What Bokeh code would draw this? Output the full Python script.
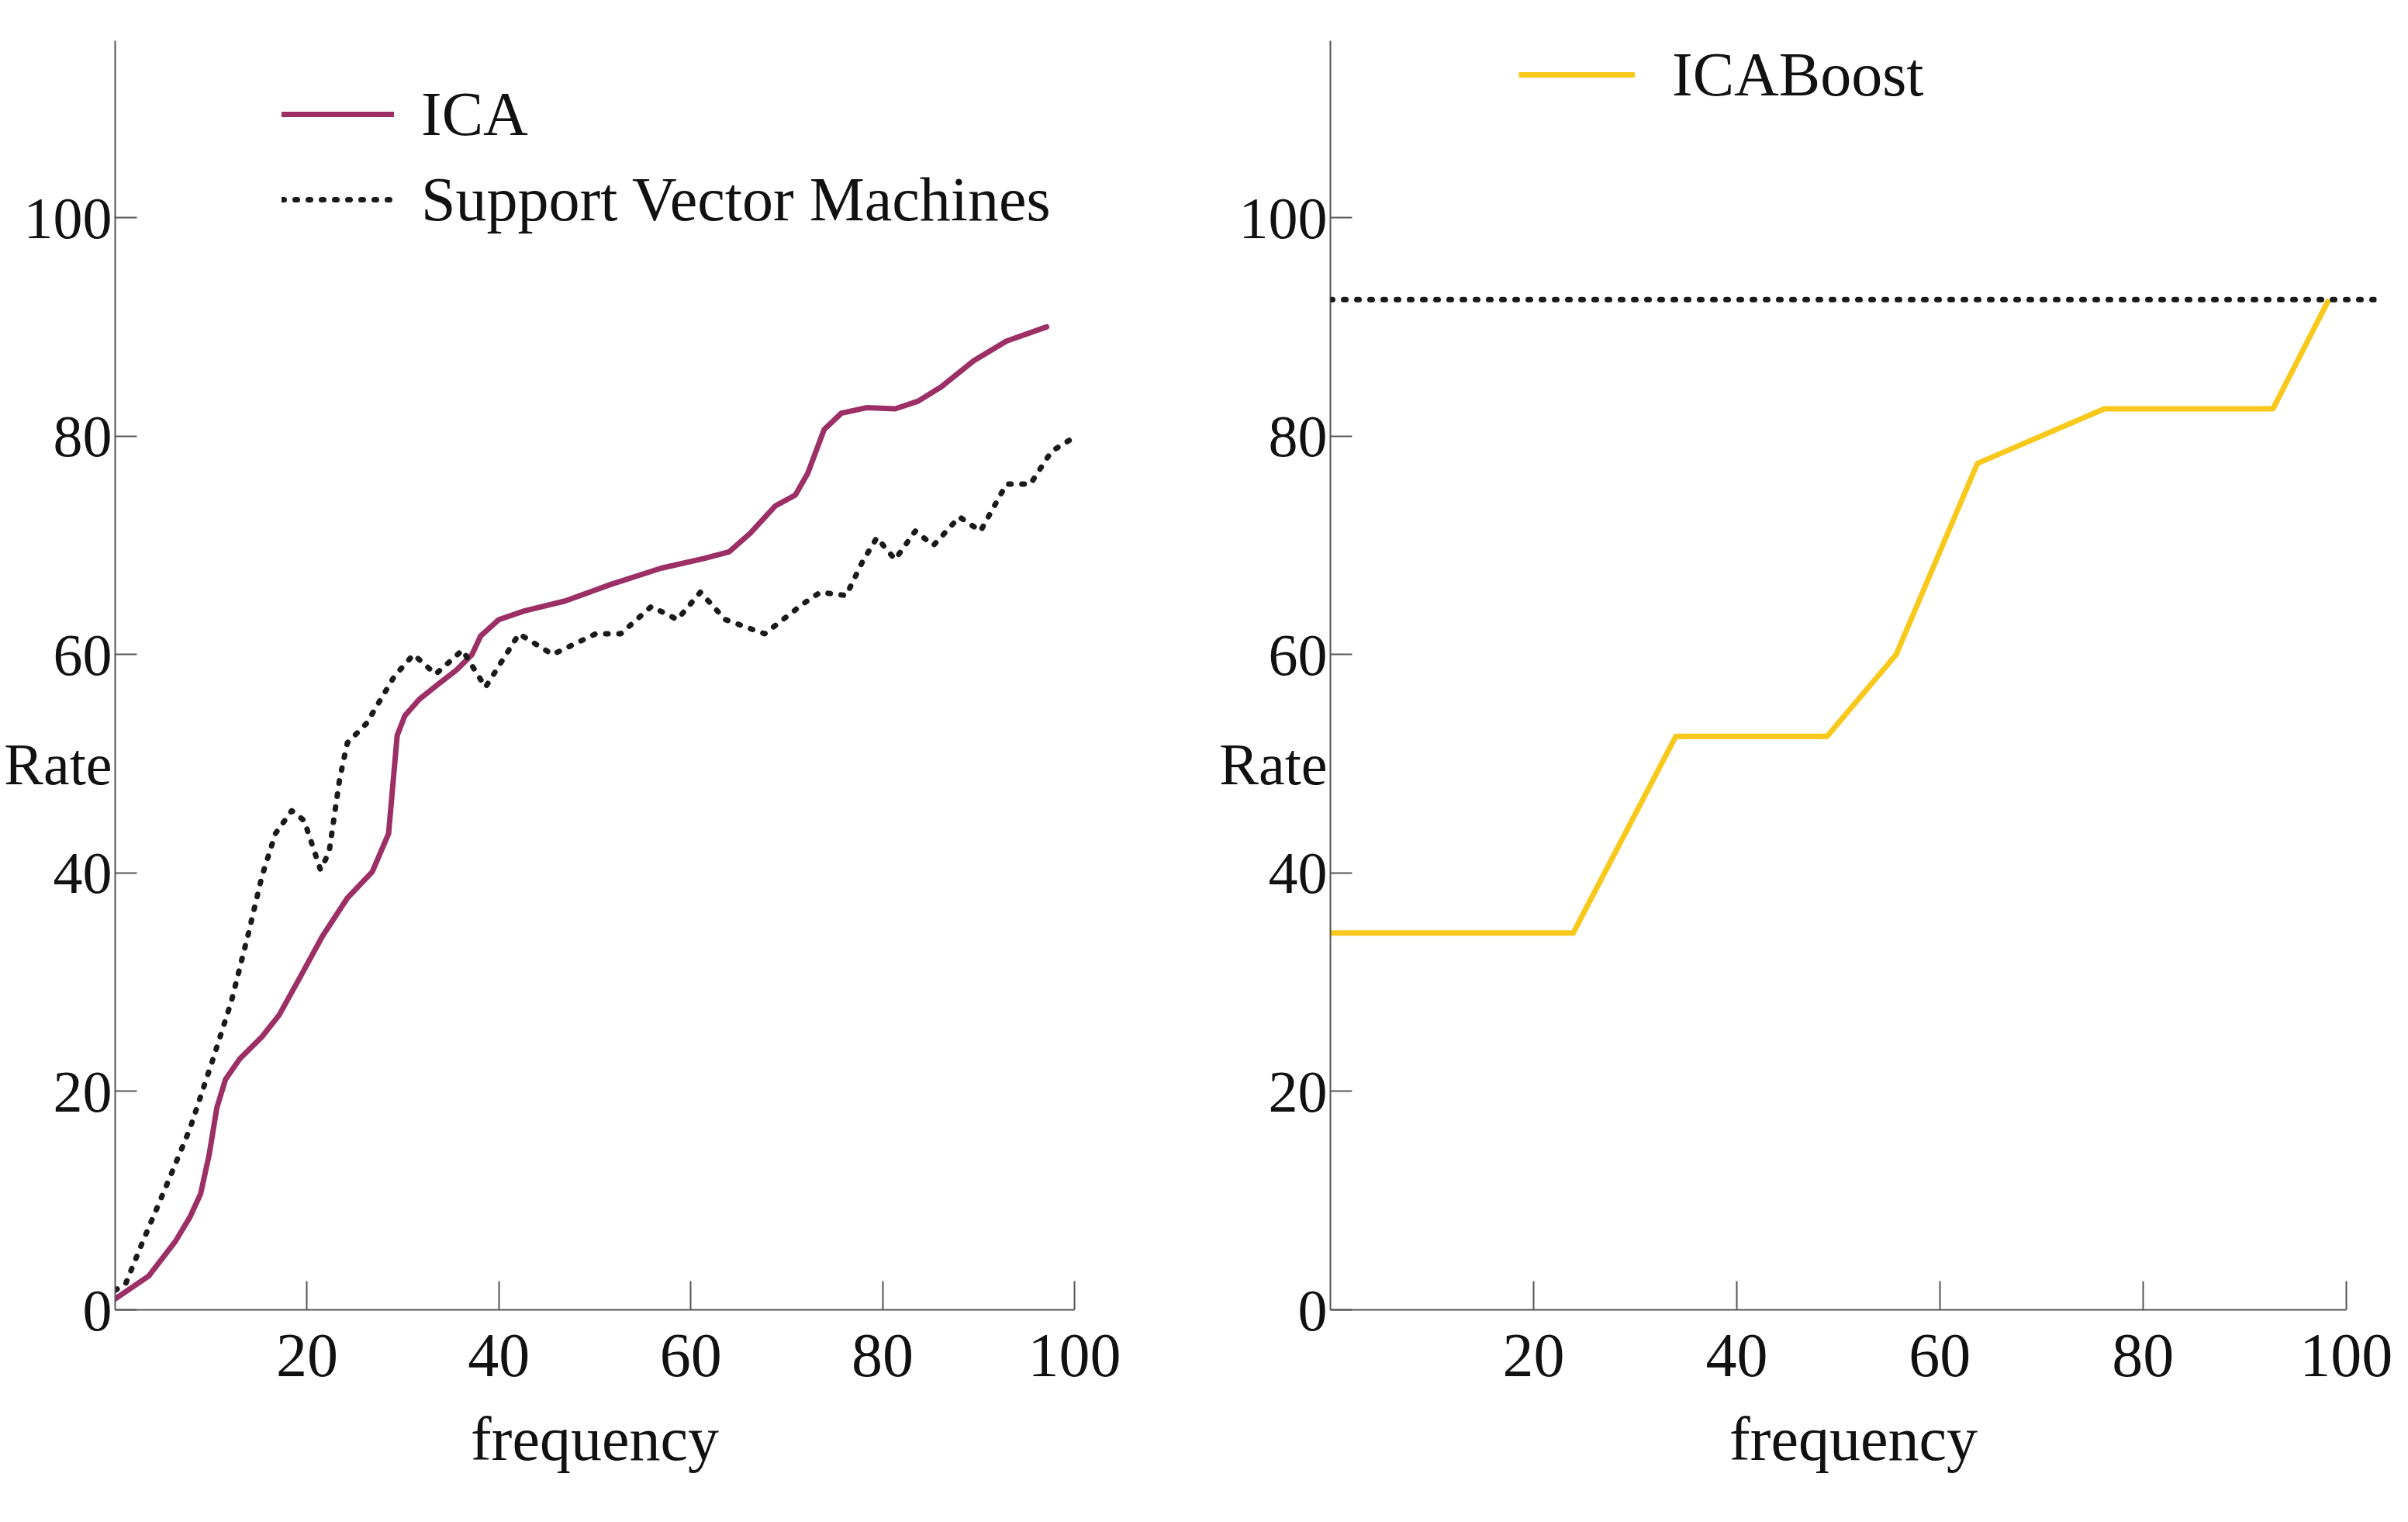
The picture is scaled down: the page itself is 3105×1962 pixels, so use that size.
from bokeh.plotting import figure
from bokeh.layouts import row
from bokeh.models import Legend, LegendItem, Span, FixedTicker, Range1d, LinearAxis
from bokeh.embed import file_html
from bokeh.resources import INLINE

# ---------------- data ----------------
ica_x = [0, 3.5, 6.3, 7.8, 8.9, 9.8, 10.6, 11.5, 13.0, 15.3,
         17.1, 19.3, 21.6, 24.2, 26.8, 28.5, 29.4, 30.2, 31.7, 33.7,
         35.6, 37.2, 38.1, 40.0, 42.7, 46.9, 51.6, 56.9, 61.4, 64.0,
         66.2, 68.8, 70.9, 72.2, 73.9, 75.7, 78.3, 81.3, 83.7, 86.1,
         89.5, 92.9, 97.1]
ica_y = [1.0, 3.1, 6.3, 8.5, 10.6, 14.2, 18.5, 21.1, 23.0, 25.0,
         27.0, 30.5, 34.2, 37.7, 40.1, 43.6, 52.6, 54.4, 55.9, 57.3,
         58.6, 60.0, 61.7, 63.2, 64.0, 64.9, 66.4, 67.9, 68.8, 69.4,
         71.1, 73.6, 74.6, 76.6, 80.6, 82.1, 82.6, 82.5, 83.2, 84.5,
         86.9, 88.7, 90.0]

svm_x = [0, 1.1, 2.9, 5.5, 7.8, 10.1, 12.1, 13.9, 15.3, 16.7,
         18.4, 19.7, 21.4, 22.3, 23.4, 24.2, 26.2, 29.1, 31.1, 33.4,
         36.2, 38.6, 42.1, 45.6, 50.1, 52.7, 55.9, 58.6, 61.0, 63.6,
         67.7, 71.8, 73.5, 76.2, 77.9, 79.4, 81.3, 83.4, 85.3, 88.0,
         90.2, 92.9, 95.4, 97.6, 99.8]
svm_y = [1.8, 2.4, 6.3, 11.7, 16.6, 22.7, 28.2, 34.5, 39.7, 43.6,
         45.7, 44.8, 40.3, 41.9, 48.6, 51.9, 53.7, 58.0, 60.0, 58.2,
         60.4, 57.0, 61.9, 60.0, 61.9, 61.9, 64.4, 63.2, 65.7, 63.2,
         61.9, 64.7, 65.7, 65.4, 68.5, 70.7, 68.7, 71.3, 70.0, 72.6,
         71.3, 75.6, 75.6, 78.6, 79.8]

boost_x = [0, 23.9, 34.0, 48.9, 55.7, 63.7, 76.2, 92.8, 98.3]
boost_y = [34.5, 34.5, 52.5, 52.5, 60.0, 77.5, 82.5, 82.5, 92.5]

svm_level = 92.5  # dotted reference level in the right panel

x_ticks = [20, 40, 60, 80, 100]
y_ticks = [0, 20, 40, 60, 80, 100]
y_title_at = 50          # the "Rate" title sits between the 40 and 60 labels

x_label = "frequency"
y_label = "Rate"
ica_name = "ICA"
svm_name = "Support Vector Machines"
boost_name = "ICABoost"

# ---------------- style ----------------
FONT = "Liberation Serif"
AXIS_COLOR = "#555555"
TXT = "#111111"
ICA_COLOR = "#9C2F66"
BOOST_COLOR = "#F8C81A"
DOT_COLOR = "#1a1a1a"
FS = "80px"
YFS = "76px"
DOTS = "3 14"


def style(p):
    p.grid.visible = False
    p.outline_line_color = None
    p.background_fill_color = "white"
    p.border_fill_color = "white"

    xa = p.xaxis[0]
    xa.ticker = FixedTicker(ticks=x_ticks)
    xa.bounds = (0, 100)
    xa.axis_line_color = AXIS_COLOR
    xa.axis_line_width = 2
    xa.major_tick_line_color = AXIS_COLOR
    xa.major_tick_line_width = 2
    xa.minor_tick_line_color = None
    xa.major_tick_in = 37
    xa.major_tick_out = 0
    xa.major_label_text_font = FONT
    xa.major_label_text_font_size = FS
    xa.major_label_text_color = TXT
    xa.major_label_standoff = 32
    xa.axis_label = x_label
    xa.axis_label_standoff = 34
    xa.axis_label_text_font = FONT
    xa.axis_label_text_font_style = "normal"
    xa.axis_label_text_font_size = FS
    xa.axis_label_text_color = TXT

    # inner y axis: line + inward ticks, no labels
    ya = p.yaxis[0]
    ya.ticker = FixedTicker(ticks=y_ticks)
    ya.axis_line_color = AXIS_COLOR
    ya.axis_line_width = 2
    ya.major_tick_line_color = AXIS_COLOR
    ya.major_tick_line_width = 2
    ya.minor_tick_line_color = None
    ya.major_tick_in = 28
    ya.major_tick_out = 0
    ya.major_label_overrides = {t: "" for t in y_ticks}
    ya.major_label_standoff = 0

    # outer y axis: the numbers and the horizontal "Rate" title
    lab = LinearAxis(ticker=FixedTicker(ticks=sorted(y_ticks + [y_title_at])),
                     major_label_overrides={y_title_at: y_label},
                     axis_line_color=None, major_tick_line_color=None,
                     minor_tick_line_color=None, major_tick_in=0, major_tick_out=0,
                     major_label_standoff=4,
                     major_label_text_font=FONT, major_label_text_font_size=YFS,
                     major_label_text_color=TXT)
    p.add_layout(lab, "left")


# ---------------- left panel ----------------
p1 = figure(width=1525, height=1950, x_range=Range1d(0, 100), y_range=Range1d(0, 116.2),
            output_backend="svg", toolbar_location=None,
            min_border_left=148, min_border_right=140, min_border_top=52, min_border_bottom=262)
style(p1)

r_ica = p1.line(ica_x, ica_y, line_color=ICA_COLOR, line_width=7,
                line_join="round", line_cap="round")
r_svm = p1.line(svm_x, svm_y, line_color=DOT_COLOR, line_width=7,
                line_dash=DOTS, line_cap="round", line_join="round")

leg1 = Legend(items=[LegendItem(label=ica_name, renderers=[r_ica]),
                     LegendItem(label=svm_name, renderers=[r_svm])],
              location=(215, 1381), orientation="vertical",
              glyph_width=145, glyph_height=100, label_height=100, label_standoff=35,
              spacing=10, padding=0, margin=0,
              border_line_color=None, background_fill_alpha=0,
              label_text_font=FONT, label_text_font_size=FS, label_text_color=TXT)
p1.add_layout(leg1)

# ---------------- right panel ----------------
p2 = figure(width=1564, height=1950, x_range=Range1d(0, 103), y_range=Range1d(0, 116.2),
            output_backend="svg", toolbar_location=None,
            min_border_left=190, min_border_right=25, min_border_top=0, min_border_bottom=262)
style(p2)

r_boost = p2.line(boost_x, boost_y, line_color=BOOST_COLOR, line_width=7, line_join="round")
p2.add_layout(Span(location=svm_level, dimension="width", line_color=DOT_COLOR,
                   line_width=7, line_dash=DOTS, line_cap="round"))

leg2 = Legend(items=[LegendItem(label=boost_name, renderers=[r_boost])],
              location=(243, 1542), orientation="vertical",
              glyph_width=150, glyph_height=100, label_height=100, label_standoff=48,
              spacing=0, padding=0, margin=0,
              border_line_color=None, background_fill_alpha=0,
              label_text_font=FONT, label_text_font_size=FS, label_text_color=TXT)
p2.add_layout(leg2)

layout = row(p1, p2)
open("out.html", "w").write(file_html(layout, INLINE))
